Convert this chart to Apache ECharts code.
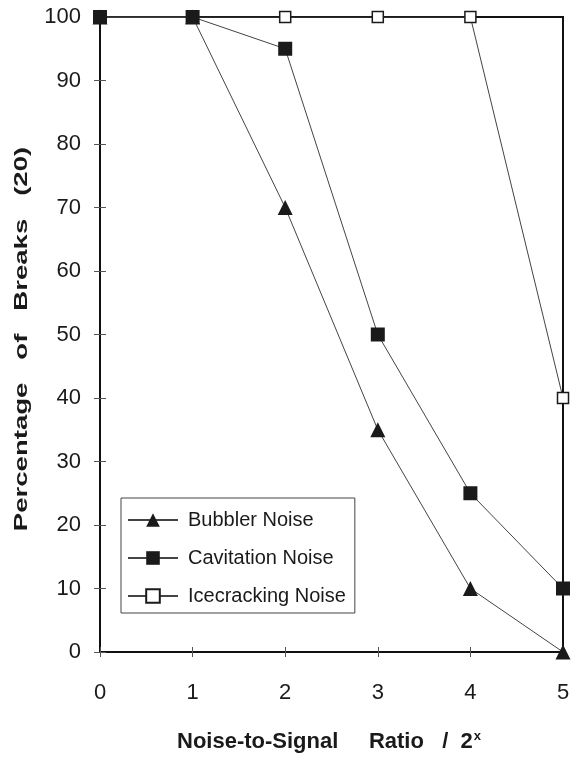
<!DOCTYPE html>
<html>
<head>
<meta charset="utf-8">
<script src="https://cdn.jsdelivr.net/npm/echarts@6/dist/echarts.min.js"></script>
<style>
  html, body { margin: 0; padding: 0; background: #fff; }
  #chart { width: 578px; height: 760px; }
</style>
</head>
<body>
<div id="chart"></div>
<script>
// Noise-to-signal exponent (x) and percentage of breaks for each noise type
const ratioSteps = [0, 1, 2, 3, 4, 5];
const bubblerNoise = [100, 100, 70, 35, 10, 0];
const cavitationNoise = [100, 100, 95, 50, 25, 10];
const icecrackingNoise = [100, 100, 100, 100, 100, 40];
const seriesNames = ['Bubbler Noise', 'Cavitation Noise', 'Icecracking Noise'];

const baseFont = '"Liberation Sans", Arial, sans-serif';

const pairs = vals => ratioSteps.map((x, i) => [x, vals[i]]);

const chart = echarts.init(document.getElementById('chart'), null, { renderer: 'canvas' });

const lineStyle = { color: '#444', width: 1 };

chart.setOption({
  animation: false,
  backgroundColor: '#fff',
  grid: {
    left: 100, right: 15, top: 17, bottom: 108,
    show: true, borderColor: '#111', borderWidth: 2, backgroundColor: 'transparent'
  },
  xAxis: [
    {
      type: 'value', min: 0, max: 5, interval: 1,
      axisLine: { show: true, lineStyle: { color: '#111', width: 2 } },
      axisTick: { show: true, inside: false, length: 5, lineStyle: { color: '#555', width: 1 } },
      axisLabel: { margin: 30, fontFamily: baseFont, fontSize: 22, color: '#1a1a1a' },
      splitLine: { show: false }
    },
    {
      type: 'value', min: 0, max: 5, interval: 1, position: 'bottom',
      axisLine: { show: false },
      axisTick: { show: true, inside: true, length: 5, lineStyle: { color: '#555', width: 1 } },
      axisLabel: { show: false },
      splitLine: { show: false }
    }
  ],
  yAxis: [
    {
      type: 'value', min: 0, max: 100, interval: 10,
      axisLine: { show: true, lineStyle: { color: '#111', width: 2 } },
      axisTick: { show: true, inside: false, length: 6, lineStyle: { color: '#555', width: 1 } },
      axisLabel: { margin: 19, fontFamily: baseFont, fontSize: 22, color: '#1a1a1a', padding: [8, 0, 0, 0] },
      splitLine: { show: false }
    },
    {
      type: 'value', min: 0, max: 100, interval: 10, position: 'left',
      axisLine: { show: false },
      axisTick: { show: true, inside: true, length: 6, lineStyle: { color: '#555', width: 1 } },
      axisLabel: { show: false },
      splitLine: { show: false }
    }
  ],
  legend: {
    orient: 'vertical',
    left: 121, top: 498,
    padding: [12, 9, 7, 6],
    itemWidth: 50, itemHeight: 17, itemGap: 18,
    borderColor: '#444', borderWidth: 1,
    data: seriesNames,
    textStyle: { fontFamily: baseFont, fontSize: 20, color: '#1a1a1a', padding: [0, 0, 0, 5] }
  },
  graphic: [
    {
      type: 'text',
      x: 22, y: 339,
      rotation: Math.PI / 2,
      scaleX: 1.45, scaleY: 1,
      style: {
        text: 'Percentage   of   Breaks   (20)',
        font: 'bold 19px ' + baseFont,
        fill: '#1a1a1a',
        align: 'center',
        verticalAlign: 'middle'
      }
    },
    {
      type: 'text',
      x: 177, y: 741,
      style: {
        text: '{t|Noise-to-Signal     Ratio   /  2}{s|x}',
        align: 'left',
        verticalAlign: 'middle',
        rich: {
          t: { font: 'bold 22px ' + baseFont, fill: '#1a1a1a', verticalAlign: 'bottom' },
          s: { font: 'bold 13px ' + baseFont, fill: '#1a1a1a', verticalAlign: 'top', padding: [0, 0, 10, 1] }
        }
      }
    }
  ],
  series: [
    {
      name: 'Bubbler Noise', type: 'line', z: 2,
      data: pairs(bubblerNoise),
      symbol: 'triangle', symbolSize: 15,
      lineStyle: lineStyle,
      itemStyle: { color: '#1a1a1a', borderColor: '#1a1a1a', borderWidth: 0 }
    },
    {
      name: 'Cavitation Noise', type: 'line', z: 4,
      data: pairs(cavitationNoise),
      symbol: 'rect', symbolSize: 14,
      lineStyle: lineStyle,
      itemStyle: { color: '#1a1a1a', borderColor: '#1a1a1a', borderWidth: 0 }
    },
    {
      name: 'Icecracking Noise', type: 'line', z: 3,
      data: pairs(icecrackingNoise),
      symbol: 'rect', symbolSize: 11,
      lineStyle: lineStyle,
      itemStyle: { color: '#fff', borderColor: '#1a1a1a', borderWidth: 1.5 }
    }
  ]
});
</script>
</body>
</html>
